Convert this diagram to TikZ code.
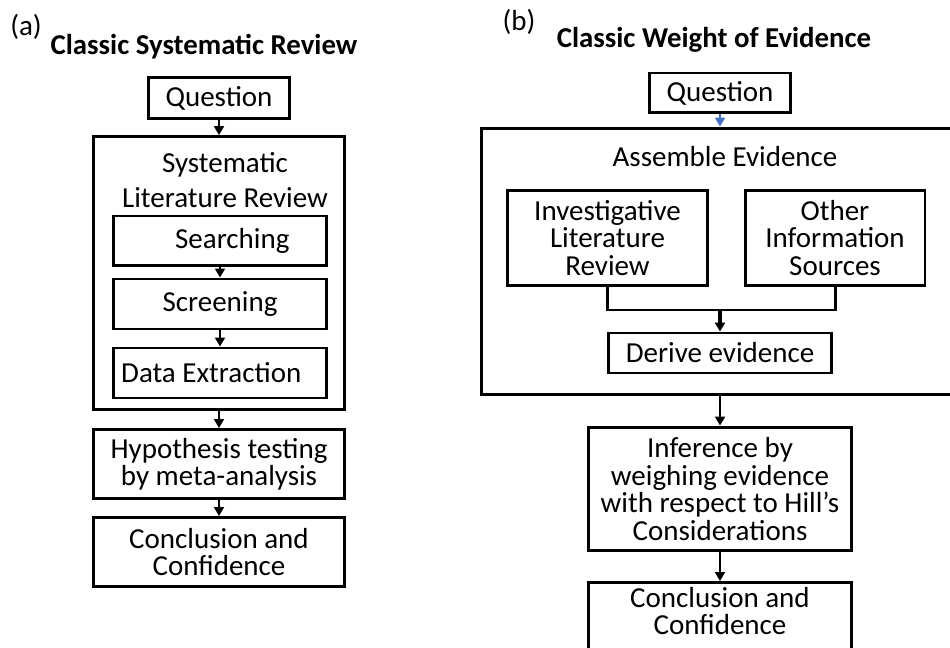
\documentclass[tikz,border=0pt]{standalone}
\usepackage{fontspec}
\setmainfont{Carlito}
\usetikzlibrary{arrows.meta,positioning}
\definecolor{arrowblue}{RGB}{68,114,196}

\begin{document}
\begin{tikzpicture} [->,>={Triangle[width=5.6pt,length=5pt]},x=0.02cm,y=-0.02cm,line width=1.1pt,
    font=\fontsize{16.5}{15.6}\selectfont]
  \tikzstyle{stage}=[draw,rectangle,line width=1.7pt,inner sep=2pt,align=center]
  \tikzstyle{heading}=[font=\fontsize{16.4}{19}\selectfont\bfseries]
  \tikzstyle{caption}=[align=center]

  \useasboundingbox (0,0) rectangle (950,648);
  \clip (0,0) rectangle (950,648);

  % (a) classic systematic review
  \node                  (laba)    at (26,27)  {(a)};
  \node[heading]         (tita)    at (204,47) {Classic Systematic Review};
  \node[stage,minimum width=2.84cm,minimum height=0.82cm] (qa) at (219,98) {Question};
  \node[stage,minimum width=5.04cm,minimum height=5.46cm] (slr) at (219,273) {};
  \node[caption,font=\fontsize{16.5}{19.5}\selectfont] (slrtext) at (225,180) {Systematic\\Literature Review};
  \node[stage,minimum width=4.26cm,minimum height=1cm] (search)  at (220,241) {\hspace{14pt}Searching};
  \node[stage,minimum width=4.26cm,minimum height=1cm] (screen)  at (220,304) {Screening};
  \node[stage,minimum width=4.28cm,minimum height=1cm] (dataext) at (220,373) {Data Extraction\hspace{10pt}};
  \node[stage,minimum width=5.04cm,minimum height=1.38cm] (hypo)   at (219,464) {Hypothesis testing\\by meta-analysis};
  \node[stage,minimum width=5.04cm,minimum height=1.38cm] (concla) at (219,552) {Conclusion and\\Confidence};

  \path
    (qa)     edge (slr)
    (search) edge (screen)
    (screen) edge (dataext)
    (slr)    edge (hypo)
    (hypo)   edge (concla);

  % (b) classic weight of evidence
  \node                  (labb)    at (519,22) {(b)};
  \node[heading]         (titb)    at (714,40) {Classic Weight of Evidence};
  \node[stage,minimum width=2.82cm,minimum height=0.8cm] (qb) at (720,93) {Question};
  \node[stage,minimum width=10.38cm,minimum height=5.34cm] (assemble) at (740.5,261.5) {};
  \node                  (asmtext) at (725,157) {Assemble Evidence};
  \node[stage,minimum width=4.02cm,minimum height=1.92cm] (invest) at (607.5,238) {Investigative\\Literature\\Review};
  \node[stage,minimum width=3.6cm,minimum height=1.92cm]  (other)  at (835,238)   {Other\\Information\\Sources};
  \coordinate (join) at (720,310);
  \node[stage,minimum width=4.48cm,minimum height=0.8cm]  (derive) at (720,353) {Derive evidence};
  \node[stage,minimum width=5.26cm,minimum height=2.48cm] (infer)  at (720,489) {Inference by\\weighing evidence\\with respect to Hill’s\\Considerations};
  \node[stage,minimum width=5.26cm,minimum height=2cm,anchor=north] (conclb) at (720,581) {};
  \node[caption]         (conbtext) at (720,611) {Conclusion and\\Confidence};

  \draw[-,line width=1.7pt] (invest.south) |- (join) -| (other.south);
  \path
    (qb |- qb.south)     edge [arrowblue] (qb |- assemble.north)
    (join)               edge [line width=2pt] (derive)
    (infer |- assemble.south) edge (infer)
    (infer)              edge (conclb);
\end{tikzpicture}
\end{document}
